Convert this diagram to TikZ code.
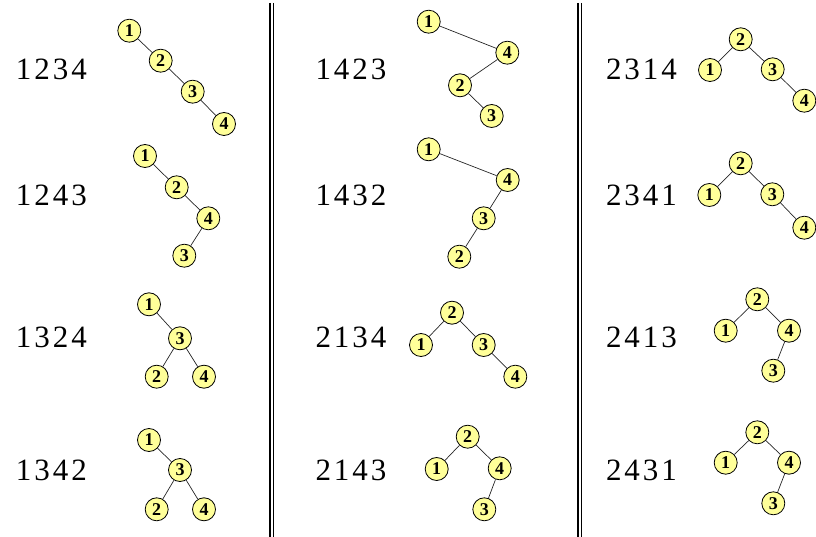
\documentclass[tikz,border=0pt]{standalone}
\usepackage{fontspec}
\setmainfont{Liberation Serif}
\usepackage{xcolor}
\usetikzlibrary{positioning}
\definecolor{keyfill}{RGB}{255,255,153}
\newcommand\seq[4]{#1\kern3pt#2\kern3pt#3\kern3pt#4}

\begin{document}
\begin{tikzpicture}[x=1pt, y=-1pt,
  key/.style={draw, circle, fill=keyfill, line width=0.8pt, minimum size=23pt, inner sep=0pt, font=\fontsize{18}{18}\selectfont\bfseries},
  perm/.style={inner sep=0pt, font=\fontsize{31}{31}\selectfont},
  link/.style={line width=0.7pt, black!85},
  rule/.style={line width=1.3pt}]
\useasboundingbox (0,0) rectangle (816,537);
% column separators
\draw[rule] (270,3) -- (270,537);
\draw[rule] (273.5,3) -- (273.5,537);
\draw[rule] (578,3) -- (578,537);
\draw[rule] (581.5,3) -- (581.5,537);

% first column
\node[perm] (pA) at (51.5,69) {\seq1234};
\node[key] (A1) at (129.3,30.7) {1};
\node[key] (A2) at (160.7,60.7) {2};
\node[key] (A3) at (192.7,91.7) {3};
\node[key] (A4) at (224,124) {4};
\draw[link] (A1) -- (A2) (A2) -- (A3) (A3) -- (A4);

\node[perm] (pB) at (51.5,195) {\seq1243};
\node[key] (B1) at (145,156) {1};
\node[key] (B2) at (176.7,187.3) {2};
\node[key] (B4) at (208.3,218.3) {4};
\node[key] (B3) at (184.3,255.7) {3};
\draw[link] (B1) -- (B2) (B2) -- (B4) (B4) -- (B3);

\node[perm] (pC) at (51.5,337) {\seq1324};
\node[key] (C1) at (149,304.3) {1};
\node[key] (C3) at (180,338.3) {3};
\node[key] (C2) at (156.7,376.7) {2};
\node[key] (C4) at (204,376.7) {4};
\draw[link] (C1) -- (C3) (C3) -- (C2) (C3) -- (C4);

\node[perm] (pD) at (51.5,470) {\seq1342};
\node[key] (D1) at (149,440) {1};
\node[key] (D3) at (180,470) {3};
\node[key] (D2) at (156.7,509.3) {2};
\node[key] (D4) at (204,509.3) {4};
\draw[link] (D1) -- (D3) (D3) -- (D2) (D3) -- (D4);

% second column
\node[perm] (pE) at (351,69) {\seq1423};
\node[key] (E1) at (428.7,21.7) {1};
\node[key] (E4) at (507.3,52.7) {4};
\node[key] (E2) at (460,85.3) {2};
\node[key] (E3) at (491.7,116) {3};
\draw[link] (E1) -- (E4) (E4) -- (E2) (E2) -- (E3);

\node[perm] (pF) at (351,195) {\seq1432};
\node[key] (F1) at (428.7,149.3) {1};
\node[key] (F4) at (507.7,180) {4};
\node[key] (F3) at (483.7,218.3) {3};
\node[key] (F2) at (459.3,256.7) {2};
\draw[link] (F1) -- (F4) (F4) -- (F3) (F3) -- (F2);

\node[perm] (pG) at (351,337) {\seq2134};
\node[key] (G2) at (452,312.7) {2};
\node[key] (G1) at (421,345) {1};
\node[key] (G3) at (483.7,345) {3};
\node[key] (G4) at (515.3,376.7) {4};
\draw[link] (G2) -- (G1) (G2) -- (G3) (G3) -- (G4);

\node[perm] (pH) at (351,470) {\seq2143};
\node[key] (H2) at (467.7,436.7) {2};
\node[key] (H1) at (436.7,469) {1};
\node[key] (H4) at (499.7,468.3) {4};
\node[key] (H3) at (484.3,509.3) {3};
\draw[link] (H2) -- (H1) (H2) -- (H4) (H4) -- (H3);

% third column
\node[perm] (pI) at (641.5,69) {\seq2314};
\node[key] (I2) at (740.7,39.3) {2};
\node[key] (I1) at (710,70) {1};
\node[key] (I3) at (772.7,69.3) {3};
\node[key] (I4) at (804.3,100.7) {4};
\draw[link] (I2) -- (I1) (I2) -- (I3) (I3) -- (I4);

\node[perm] (pJ) at (641.5,195) {\seq2341};
\node[key] (J2) at (740.7,163.3) {2};
\node[key] (J1) at (709.3,195) {1};
\node[key] (J3) at (772.3,194.3) {3};
\node[key] (J4) at (804.3,227.7) {4};
\draw[link] (J2) -- (J1) (J2) -- (J3) (J3) -- (J4);

\node[perm] (pK) at (641.5,337) {\seq2413};
\node[key] (K2) at (757.3,299.3) {2};
\node[key] (K1) at (725.7,330.7) {1};
\node[key] (K4) at (789,330.7) {4};
\node[key] (K3) at (773.3,370.7) {3};
\draw[link] (K2) -- (K1) (K2) -- (K4) (K4) -- (K3);

\node[perm] (pL) at (641.5,470) {\seq2431};
\node[key] (L2) at (757.3,432.3) {2};
\node[key] (L1) at (725.7,462.7) {1};
\node[key] (L4) at (789,462.7) {4};
\node[key] (L3) at (773.3,503.3) {3};
\draw[link] (L2) -- (L1) (L2) -- (L4) (L4) -- (L3);
\end{tikzpicture}
\end{document}
